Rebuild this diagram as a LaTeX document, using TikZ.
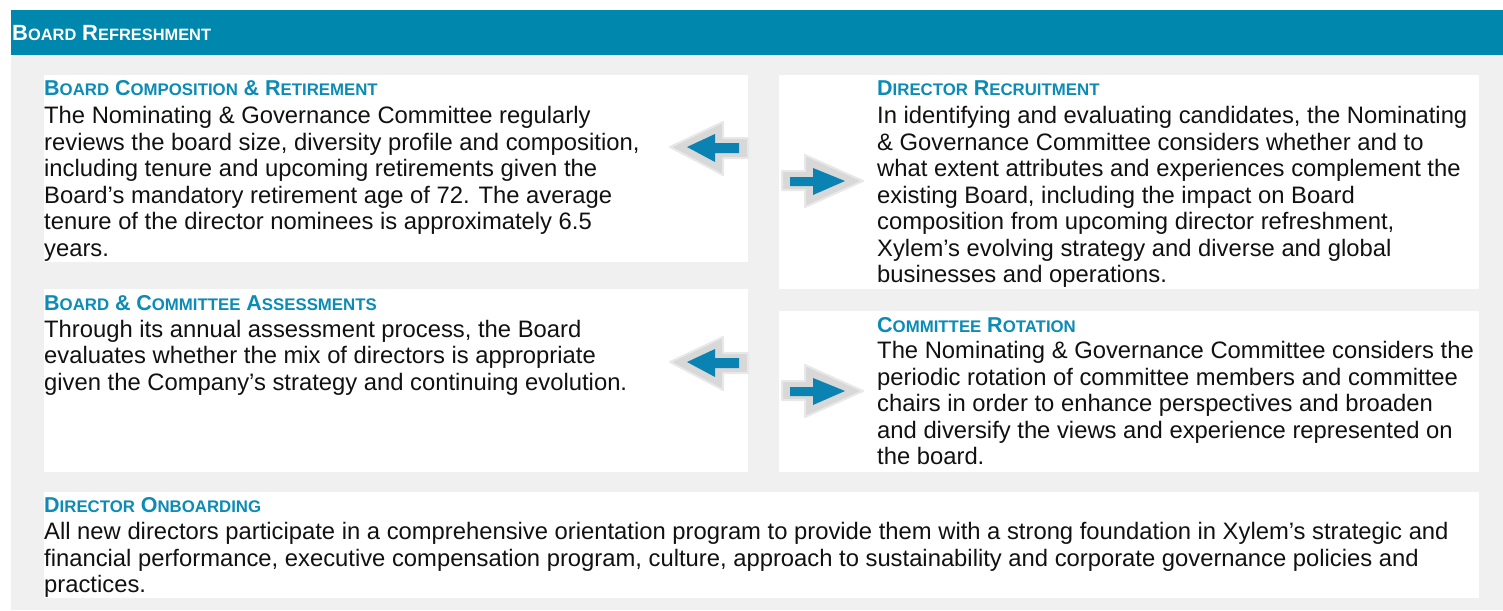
\documentclass[tikz,border=0pt]{standalone}
\usepackage{fontspec}
\setmainfont{Liberation Sans}
\definecolor{teal1}{HTML}{0087AD}
\definecolor{headc}{HTML}{0B8BB5}
\definecolor{bgc}{HTML}{F0F0F0}
\definecolor{arrblue}{HTML}{0A82B2}
\definecolor{arrgrey}{HTML}{D8D8D8}
\definecolor{arrsoft}{HTML}{E8E8E8}
\definecolor{bodyc}{HTML}{111111}
\newcommand\capA[1]{{\fontsize{21.5pt}{21pt}\selectfont #1}}
\newcommand\capB[1]{{\fontsize{16.8pt}{16pt}\selectfont #1}}
\newcommand\tcapA[1]{{\fontsize{22pt}{22pt}\selectfont #1}}
\newcommand\tcapB[1]{{\fontsize{16.4pt}{16pt}\selectfont #1}}
\newcommand\topstrut{\rule{0pt}{22pt}}
\begin{document}
\begin{tikzpicture}[x=1pt,y=-1pt,
  panel/.style={fill=white, draw=none, inner sep=0pt, outer sep=0pt, anchor=north west},
  heading/.style={anchor=base west, inner sep=0pt, text=headc, font=\fontsize{21pt}{21pt}\selectfont\bfseries},
  bodytext/.style={anchor=north west, inner sep=0pt, align=left, text=bodyc,
    font=\fontsize{23.8pt}{26.5pt}\selectfont},
  shadowarrow/.style={fill=arrgrey, draw=arrsoft, line width=2pt, line join=round},
  bluearrow/.style={fill=arrblue}]
\useasboundingbox (0,0) rectangle (1503,610);
\fill[white] (0,0) rectangle (1503,610);
% grey background and header band
\fill[bgc] (11,55) rectangle (1503,610);
\node[panel, fill=teal1, minimum width=1492pt, minimum height=45pt] (hdr) at (11,10) {};
\node[anchor=base west, inner sep=0pt, text=white, font=\fontsize{21pt}{21pt}\selectfont\bfseries] (title) at (12,40.7)
  {\tcapA{B}\tcapB{OARD} \tcapA{R}\tcapB{EFRESHMENT}};
% panels
\node[panel, minimum width=704pt, minimum height=187pt] (A) at (44,75) {};
\node[panel, minimum width=700pt, minimum height=214pt] (B) at (779,75) {};
\node[panel, minimum width=704pt, minimum height=183pt] (C) at (44,289) {};
\node[panel, minimum width=700pt, minimum height=161pt] (D) at (779,311) {};
\node[panel, minimum width=1435pt, minimum height=106pt] (E) at (44,492) {};
% arrows (left-pointing)
\foreach \dy in {0,215} {
  \begin{scope}[shift={(0,\dy)}]
    \filldraw[shadowarrow] (670,147) -- (723,122) -- (723,138) -- (748,138) -- (748,158) -- (723,158) -- (723,175) -- cycle;
    \fill[bluearrow] (687,147) -- (715,134) -- (715,143) -- (739,143) -- (739,153) -- (715,153) -- (715,162) -- cycle;
  \end{scope}
}
% arrows (right-pointing)
\foreach \dy in {0,210} {
  \begin{scope}[shift={(0,\dy)}]
    \filldraw[shadowarrow] (863,181) -- (805,155) -- (805,171) -- (782,171) -- (782,190) -- (805,190) -- (805,207) -- cycle;
    \fill[bluearrow] (845,181) -- (813,168) -- (813,177) -- (790,177) -- (790,186) -- (813,186) -- (813,195) -- cycle;
  \end{scope}
}
% texts (body nodes: top = first baseline - 22)
\node[heading] (Ah) at (44,95.7) {\capA{B}\capB{OARD} \capA{C}\capB{OMPOSITION} \capA{\&} \capA{R}\capB{ETIREMENT}};
\node[bodytext] (Ab) at (44,101.3) {\topstrut The Nominating \& Governance Committee regularly\\
reviews the board size, diversity profile and composition,\\
including tenure and upcoming retirements given the\\
Board’s mandatory retirement age of 72. The average\\
tenure of the director nominees is approximately 6.5\\
years.};
\node[heading] (Bh) at (877,95.7) {\capA{D}\capB{IRECTOR} \capA{R}\capB{ECRUITMENT}};
\node[bodytext] (Bb) at (877,101.3) {\topstrut In identifying and evaluating candidates, the Nominating\\
\& Governance Committee considers whether and to\\
what extent attributes and experiences complement the\\
existing Board, including the impact on Board\\
composition from upcoming director refreshment,\\
Xylem’s evolving strategy and diverse and global\\
businesses and operations.};
\node[heading] (Ch) at (44,310) {\capA{B}\capB{OARD} \capA{\&} \capA{C}\capB{OMMITTEE} \capA{A}\capB{SSESSMENTS}};
\node[bodytext] (Cb) at (44,315) {\topstrut Through its annual assessment process, the Board\\
evaluates whether the mix of directors is appropriate\\
given the Company’s strategy and continuing evolution.};
\node[heading] (Dh) at (877,332) {\capA{C}\capB{OMMITTEE} \capA{R}\capB{OTATION}};
\node[bodytext] (Db) at (877,336.5) {\topstrut The Nominating \& Governance Committee considers the\\
periodic rotation of committee members and committee\\
chairs in order to enhance perspectives and broaden\\
and diversify the views and experience represented on\\
the board.};
\node[heading] (Eh) at (44,512) {\capA{D}\capB{IRECTOR} \capA{O}\capB{NBOARDING}};
\node[bodytext] (Eb) at (44,517.5) {\topstrut All new directors participate in a comprehensive orientation program to provide them with a strong foundation in Xylem’s strategic and\\
financial performance, executive compensation program, culture, approach to sustainability and corporate governance policies and\\
practices.};
\end{tikzpicture}
\end{document}
